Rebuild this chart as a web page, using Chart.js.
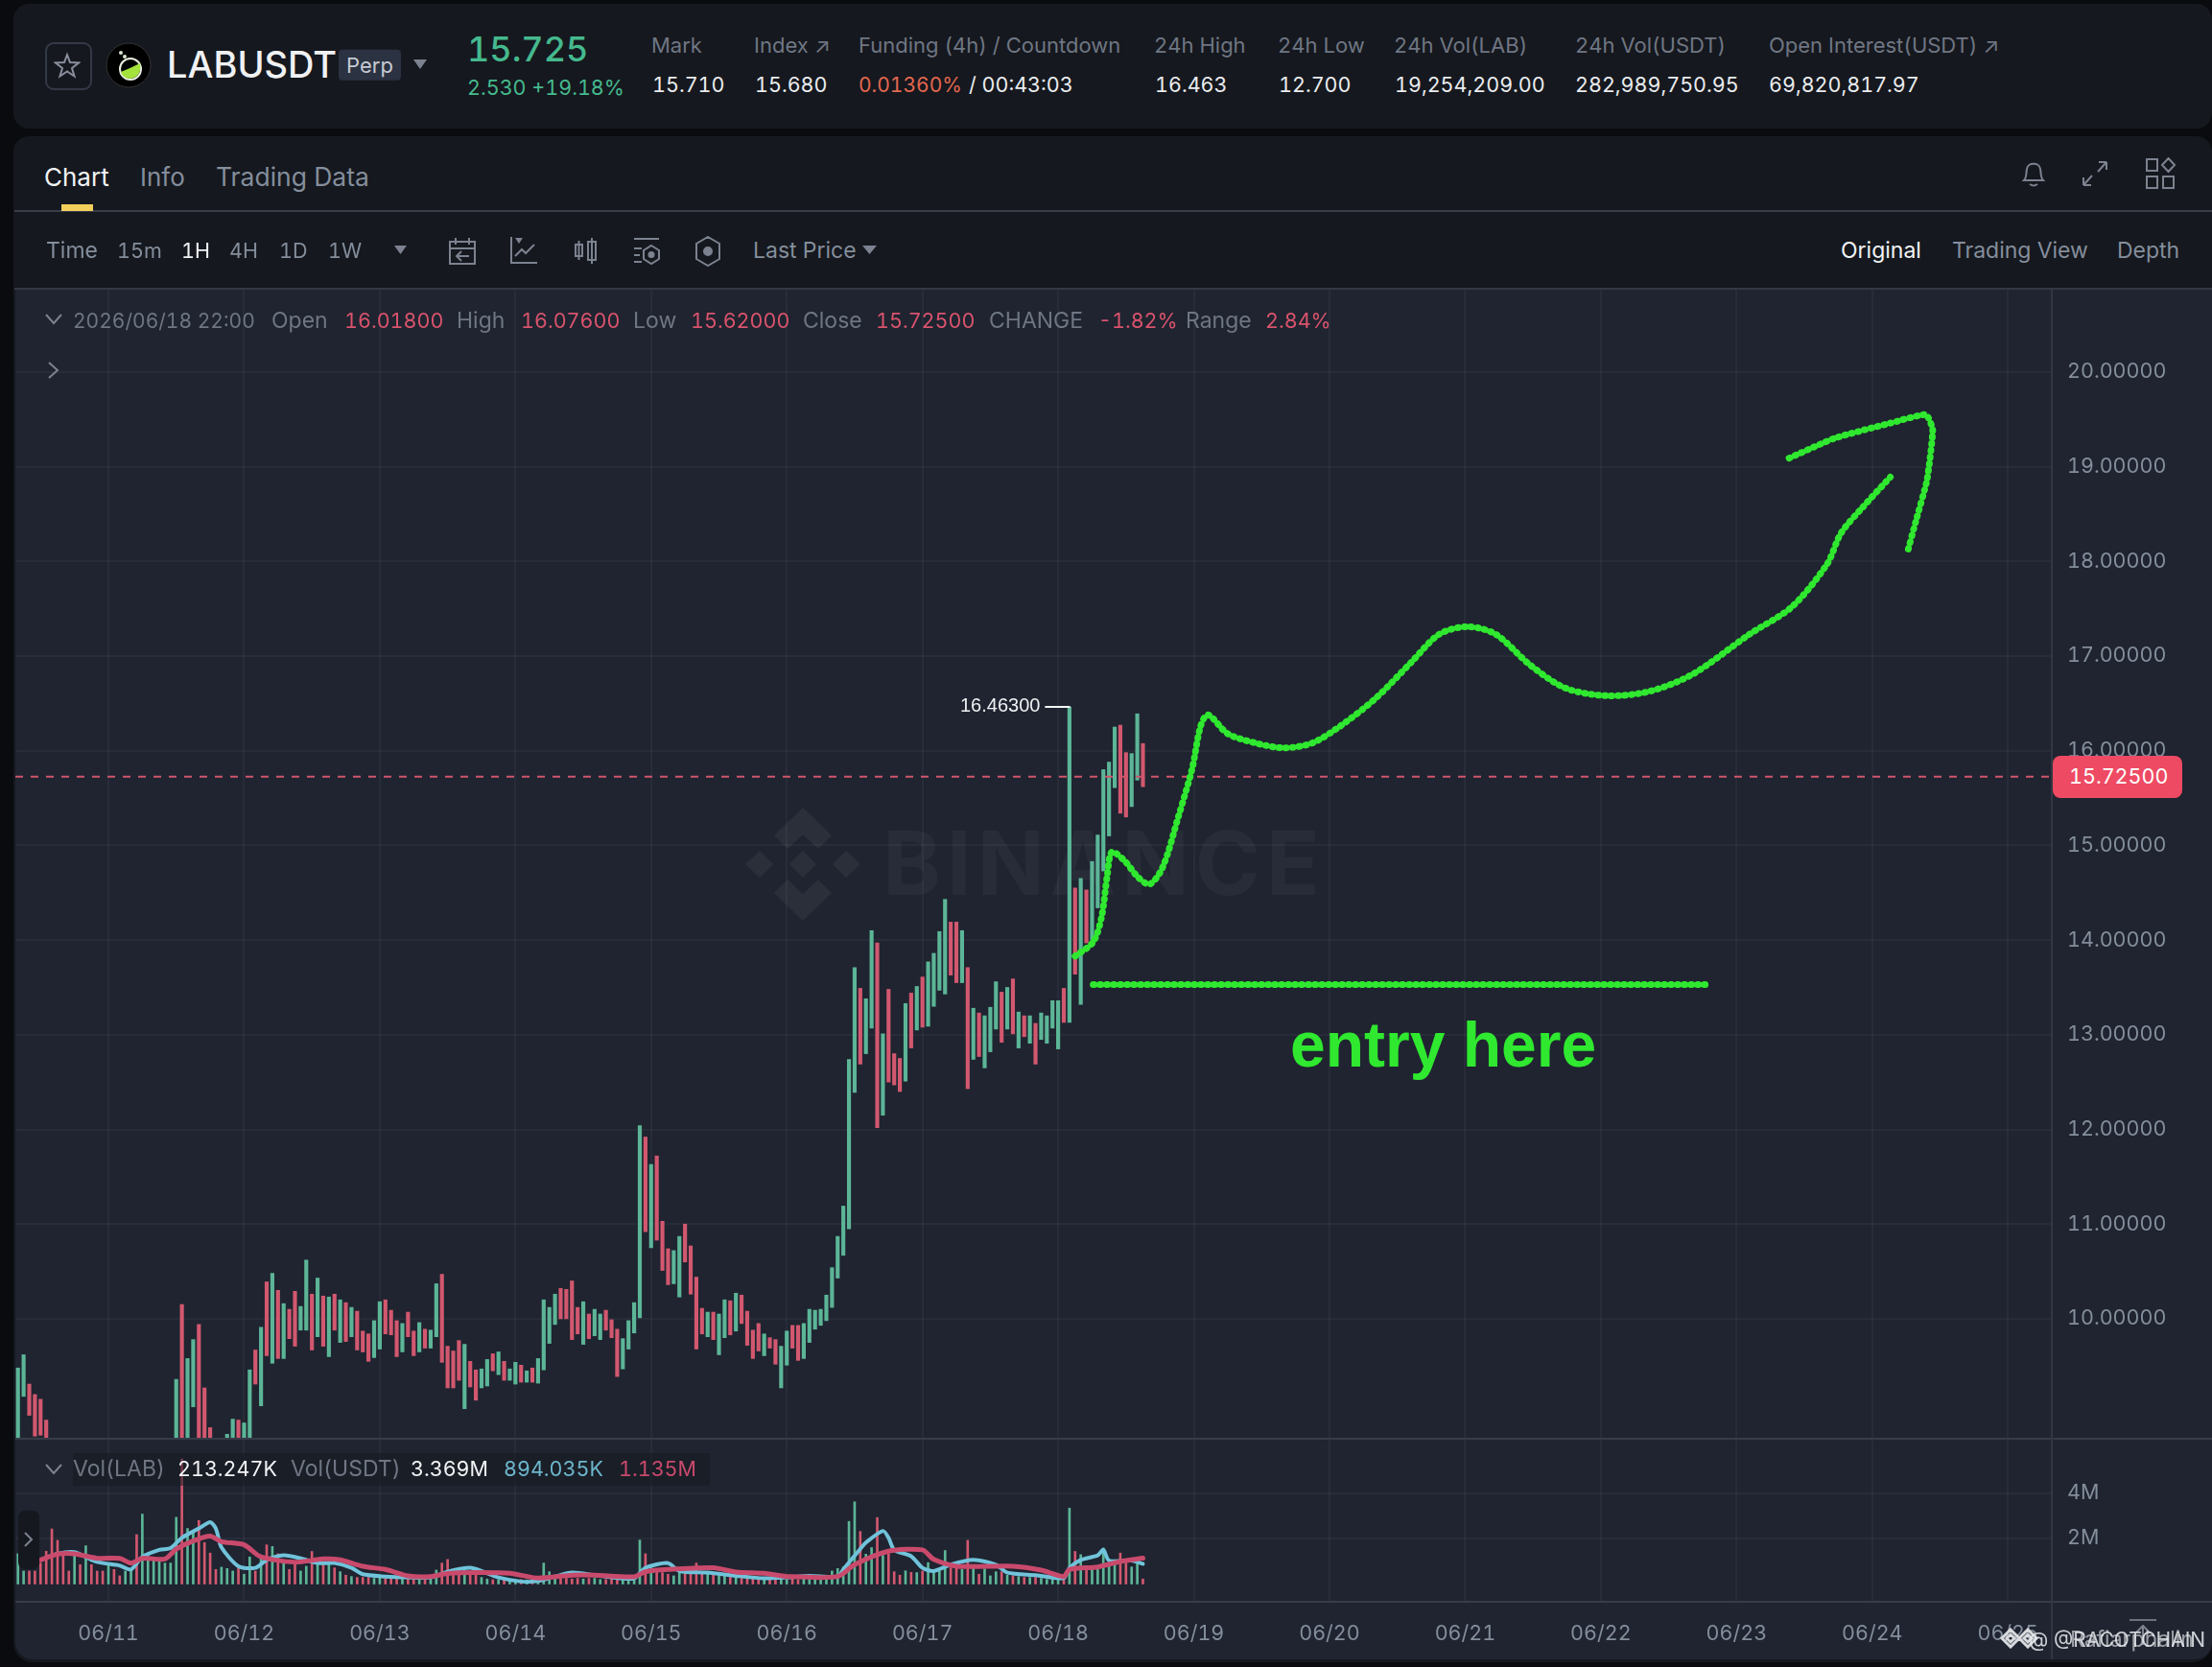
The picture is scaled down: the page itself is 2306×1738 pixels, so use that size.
<!DOCTYPE html>
<html>
<head>
<meta charset="utf-8">
<title>LABUSDT Perp</title>
<script src="https://cdn.jsdelivr.net/npm/chart.js@4"></script>
<style>
html, body { margin: 0; padding: 0; background: #090b0e; }
#stage { position: relative; width: 2306px; height: 1738px; overflow: hidden; background: #090b0e; font-family: Inter, Roboto, sans-serif; font-variant-numeric: tabular-nums; }
#stage div, #stage span, #stage svg, #stage canvas { position: absolute; }
.t { white-space: nowrap; transform: translateY(-50%); line-height: 1.2; }
svg { fill: none; stroke: #7c8290; stroke-width: 2; }
</style>
</head>
<body>
<div id="stage">
  <div style="left:14px;top:4px;width:2292px;height:130px;background:#15181e;border-radius:16px"></div>
  <div style="left:14px;top:142px;width:2292px;height:1591px;background:#15181e;border-radius:16px 16px 20px 20px"></div>
  <div style="left:16px;top:302px;width:2290px;height:1428px;background:#1f2430;border-radius:0 0 18px 18px"></div>
  <div style="left:15px;top:219px;width:2291px;height:2px;background:#373c47"></div>
  <div style="left:15px;top:300px;width:2291px;height:2px;background:#333844"></div>
  <div style="left:64px;top:213px;width:33px;height:7px;background:#f3cf5b"></div>
  <div style="left:47px;top:44px;width:45px;height:46px;border:2px solid #343946;border-radius:9px"></div>

  <!-- big watermark behind the candles -->
  <svg style="left:777px;top:842px;stroke:none;fill:rgba(255,255,255,.05)" width="120" height="118" viewBox="0 0 120 118">
    <path d="M60 0 L90 29 L76 43 L60 28 L44 43 L30 29Z M60 118 L30 89 L44 75 L60 90 L76 75 L90 89Z M15 45 L29 59 L15 73 L0 59Z M105 45 L120 59 L105 73 L91 59Z M60 45 L74 59 L60 73 L46 59Z"/>
  </svg>
  <span class="t" style="left:920px;top:900px;font-size:92px;font-weight:700;letter-spacing:6px;color:rgba(255,255,255,.04)">BINANCE</span>

  <canvas id="priceChart" width="2290" height="1198" style="left:16px;top:302px"></canvas>
  <canvas id="volChart" width="2290" height="233" style="left:16px;top:1500px"></canvas>

  <div style="left:16px;top:1499px;width:2290px;height:2px;background:#373c49"></div>
  <div style="left:16px;top:1669px;width:2290px;height:2px;background:#373c49"></div>
  <div style="left:2138px;top:302px;width:2px;height:1428px;background:#323743"></div>
  <div style="left:76px;top:1515px;width:664px;height:34px;background:rgba(22,25,32,.55)"></div>
  <div style="left:19px;top:1575px;width:22px;height:61px;background:#15181e;border-radius:7px"></div>
  <div style="left:2140px;top:788px;width:135px;height:44px;background:#ee4a63;border-radius:8px"></div>
  <div style="left:2220px;top:1688px;width:28px;height:2px;background:#6b7180"></div>

  <!-- star and logo -->
  <svg style="left:56px;top:54px" width="28" height="28" viewBox="0 0 28 28"><path d="M14 3 L17 11 L26 11.5 L19 17 L21.5 25.5 L14 20.5 L6.5 25.5 L9 17 L2 11.5 L11 11Z" stroke="#8a8f9e"/></svg>
  <svg style="left:110px;top:44px;stroke:none" width="48" height="48" viewBox="0 0 48 48">
    <circle cx="24" cy="24" r="23" fill="#000" stroke="#333" stroke-width="1"/>
    <circle cx="26" cy="28" r="11" fill="#000" stroke="#e8eee0" stroke-width="2"/>
    <path d="M16 31 Q26 27 36 22 Q38 36 26 38 Q18 38 16 31Z" fill="#a4e33c"/>
    <circle cx="16" cy="11" r="2" fill="#d9e6cf"/><circle cx="20" cy="15" r="2" fill="#d9e6cf"/>
  </svg>
  <!-- carets -->
  <svg style="left:431px;top:62px;stroke:none;fill:#7c8290" width="14" height="10"><path d="M0 0H14L7 10Z"/></svg>
  <svg style="left:411px;top:256px;stroke:none;fill:#7c8290" width="13" height="9"><path d="M0 0H13L6.5 9Z"/></svg>
  <svg style="left:899px;top:256px;stroke:none;fill:#7c8290" width="15" height="9"><path d="M0 0H15L7.5 9Z"/></svg>

  <!-- right tab icons -->
  <svg style="left:2106px;top:166px" width="28" height="30" viewBox="0 0 28 30"><path d="M4 22 C7 19 6 15 7 10 C8 3 20 3 21 10 C22 15 21 19 24 22Z M10 26 Q14 29 18 26"/></svg>
  <svg style="left:2170px;top:166px" width="28" height="30" viewBox="0 0 28 30"><path d="M26 3 L18 3 M26 3 L26 11 M26 3 L17 13 M2 27 L10 27 M2 27 L2 19 M2 27 L11 17"/></svg>
  <svg style="left:2236px;top:164px" width="32" height="34" viewBox="0 0 32 34"><path d="M2 2H13V14H2Z M2 20H13V32H2Z M19 20H30V32H19Z M24.5 1 L31 8 L24.5 15 L18 8Z"/></svg>

  <!-- toolbar icons -->
  <svg style="left:467px;top:247px" width="30" height="30" viewBox="0 0 30 30"><path d="M2 5H28V28H2Z M2 12H28 M8 1V8 M22 1V8 M22 20H9 M14 15L9 20L14 25"/></svg>
  <svg style="left:531px;top:246px" width="30" height="30" viewBox="0 0 30 30"><path d="M2 1V28H29 M6 21L13 14L17 18L26 9"/><path d="M6 2H14L10 8Z" stroke="none" fill="#7c8290"/></svg>
  <svg style="left:598px;top:247px" width="26" height="30" viewBox="0 0 26 30"><path d="M2 8H9V20H2Z M5.5 4V24 M15 5H23V24H15Z M19 1V28"/></svg>
  <svg style="left:659px;top:246px" width="30" height="32" viewBox="0 0 30 32"><path d="M2 3H28 M2 13H10 M2 20H8 M2 27H10 M20 10L28 15V24L20 29L12 24V15Z"/><circle cx="20" cy="19.5" r="2.5" fill="#7c8290"/></svg>
  <svg style="left:725px;top:246px" width="26" height="32" viewBox="0 0 26 32"><path d="M13 1L25 8V24L13 31L1 24V8Z"/><circle cx="13" cy="16" r="4" fill="#7c8290"/></svg>

  <!-- chevrons -->
  <svg style="left:47px;top:327px" width="18" height="12"><path d="M1 1L9 10L17 1"/></svg>
  <svg style="left:50px;top:377px" width="12" height="18"><path d="M1 1L10 9L1 17"/></svg>
  <svg style="left:47px;top:1526px" width="18" height="12"><path d="M1 1L9 10L17 1"/></svg>
  <svg style="left:25px;top:1597px" width="10" height="16"><path d="M1 1L8 8L1 15"/></svg>

  <!-- little corner watermark and back-to-latest arrow -->
  <svg style="left:2226px;top:1694px" width="16" height="22"><path d="M8 1V21 M1 8L8 1L15 8"/></svg>
  <svg style="left:2084px;top:1697px;stroke:#d8dade;stroke-width:3" width="48" height="22" viewBox="0 0 48 22"><path d="M12 2L21 11L12 20L3 11Z M8 11L12 7L16 11L12 15Z M30 2L39 11L30 20L21 11Z M26 11L30 7L34 11L30 15Z"/></svg>
</div>

<script>
// hour 0 is 06/11 00:00, one candle per hour from firstHour on
const firstHour = -16;
const dayHours = [0, 24, 48, 72, 96, 120, 144, 168, 192, 216, 240, 264, 288, 312, 336];
const dayLabels = ['06/11', '06/12', '06/13', '06/14', '06/15', '06/16', '06/17', '06/18', '06/19', '06/20', '06/21', '06/22', '06/23', '06/24', '06/25'];
const priceTicks = [10, 11, 12, 13, 14, 15, 16, 17, 18, 19, 20];
const volTicks = [2, 4];
const lastPrice = 15.725;

// G up, R down. nulls are candles that sit below the visible price range
const candleDirs = ('GGRRRRRRRR' + 'GRGRRRGRRG' + 'GRGGGGGGGR' + 'GGRRRRGGGR' + 'GGRGRGRGRR' +
    'GGRGRGRGRG' + 'RRRGGRRRGR' + 'RGRGGRRRRG' + 'RRGGRGRGGR' + 'GRGGGGRRRR' +
    'GRGGRRRGGG' + 'GRGRRRGGRR' + 'RRGRGGRGRR' + 'RRGRRGGRRG' + 'GGGGGGGGGR' +
    'GGRGRRRGRG' + 'RGGGGRRGRG' + 'RGGGRGRGRG' + 'RGGGGRGRGR' + 'GGGGGRRGGR').split('');

const highs = [
    9.48, 9.62, 9.31, 9.20, 9.15, 8.93, null, null, null, null,
    null, null, null, null, null, null, null, null, null, null,
    null, null, null, null, null, null, null, null, 9.36, 10.15,
    9.58, 9.78, 9.94, 9.27, 8.85, null, null, 8.78, 8.94, 8.93,
    8.90, 9.46, 9.67, 9.91, 10.39, 10.48, 10.30, 10.16, 10.10, 10.29,
    10.13, 10.62, 10.26, 10.43, 10.24, 10.23, 10.26, 10.20, 10.17, 10.12,
    10.08, 9.87, 9.84, 9.98, 10.18, 10.20, 10.09, 9.98, 9.95, 10.07,
    9.87, 9.96, 9.89, 9.88, 10.37, 10.47, 9.71, 9.66, 9.77, 9.73,
    9.55, 9.46, 9.47, 9.57, 9.63, 9.65, 9.55, 9.47, 9.54, 9.51,
    9.45, 9.48, 9.58, 10.20, 10.12, 10.26, 10.32, 10.31, 10.40, 10.12,
    10.18, 10.05, 10.10, 10.05, 10.09, 9.99, 9.89, 9.79, 9.98, 10.17,
    12.04, 11.92, 11.63, 11.72, 11.03, 10.74, 10.72, 10.87, 11.00, 10.77,
    10.44, 10.11, 10.07, 10.07, 10.05, 10.20, 10.19, 10.27, 10.25, 10.08,
    9.88, 9.95, 9.84, 9.80, 9.78, 9.71, 9.87, 9.93, 9.93, 9.95,
    10.10, 10.09, 10.10, 10.25, 10.54, 10.87, 11.19, 12.74, 13.71, 13.49,
    13.38, 14.10, 13.97, 13.01, 13.48, 12.80, 12.75, 13.33, 13.44, 13.51,
    13.61, 13.77, 13.86, 14.09, 14.43, 14.19, 14.19, 14.10, 13.71, 13.28,
    13.23, 13.20, 13.29, 13.56, 13.45, 13.50, 13.59, 13.24, 13.20, 13.20,
    13.12, 13.23, 13.20, 13.36, 13.36, 13.49, 16.463, 14.55, 14.65, 14.53,
    14.83, 15.11, 15.80, 15.88, 16.25, 16.27, 15.98, 15.97, 16.39, 16.076
];
const lows = [
    8.70, 9.18, 8.98, 8.76, 8.77, 8.70, null, null, null, null,
    null, null, null, null, null, null, null, null, null, null,
    null, null, null, null, null, null, null, null, 8.70, 8.70,
    8.70, 9.07, 8.70, 8.70, 8.70, null, null, 8.70, 8.70, 8.70,
    8.70, 8.70, 9.31, 9.08, 9.61, 9.53, 9.58, 9.58, 9.79, 9.71,
    9.88, 9.88, 9.67, 9.81, 9.71, 9.60, 9.88, 9.75, 9.76, 9.81,
    9.67, 9.65, 9.55, 9.59, 9.68, 9.84, 9.83, 9.60, 9.65, 9.81,
    9.61, 9.65, 9.69, 9.69, 9.81, 9.54, 9.27, 9.27, 9.35, 9.05,
    9.28, 9.14, 9.27, 9.29, 9.45, 9.41, 9.35, 9.35, 9.31, 9.33,
    9.33, 9.33, 9.32, 9.46, 9.74, 9.94, 10.00, 10.00, 9.78, 9.84,
    9.73, 9.79, 9.82, 9.78, 9.88, 9.80, 9.39, 9.47, 9.68, 9.85,
    10.01, 10.92, 10.75, 10.83, 10.51, 10.36, 10.37, 10.23, 10.60, 10.26,
    9.68, 9.84, 9.81, 9.78, 9.62, 9.80, 9.83, 9.87, 9.95, 9.72,
    9.58, 9.66, 9.61, 9.69, 9.52, 9.27, 9.51, 9.69, 9.56, 9.58,
    9.75, 9.89, 9.93, 9.98, 10.12, 10.43, 10.67, 10.95, 12.39, 12.69,
    12.80, 13.07, 12.02, 12.15, 12.50, 12.47, 12.40, 12.51, 12.86, 13.05,
    13.08, 13.09, 13.30, 13.47, 13.43, 13.63, 13.55, 13.55, 12.43, 12.74,
    12.77, 12.65, 12.82, 13.06, 12.92, 13.06, 13.01, 12.86, 12.98, 12.91,
    12.69, 12.95, 12.91, 13.07, 12.85, 13.13, 13.13, 13.64, 13.32, 13.97,
    14.00, 14.34, 14.73, 15.10, 15.61, 15.34, 15.30, 15.41, 15.69, 15.62
];

// volume in millions USDT
const volumes = [
    1.33, .57, .57, .57, .92, 1.44, 2.42, 1.92, 1.33, .57,
    1.26, .85, 1.68, .85, .57, .57, .92, .64, .36, .57,
    .64, 2.17, 3.07, 1.26, 1.03, .99, .92, .92, 2.93, 5.5,
    2.44, 2.31, 2.79, 1.82, 1.36, .64, .74, .68, .57, .71,
    .43, 1.19, .57, 1.13, 1.72, 1.65, 1.33, .92, .64, .92,
    .57, .78, 1.43, .85, .85, .85, .71, .54, .39, .33,
    .29, .29, .29, .25, .28, .25, .25, .22, .25, .22,
    .25, .22, .22, .25, .61, .92, 1.08, .57, .54, .75,
    .57, .57, .29, .22, .19, .2, .18, .2, .18, .2,
    .18, .2, .18, .92, .54, .29, .25, .25, .22, .25,
    .22, .25, .25, .2, .2, .22, .2, .2, .22, .22,
    1.93, 1.33, .78, .64, .5, .43, .36, .5, .64, .5,
    .92, .5, .43, .43, .5, .43, .36, .36, .29, .27,
    .25, .27, .25, .22, .25, .22, .2, .22, .2, .25,
    .22, .2, .25, .29, .57, .68, .75, 2.75, 3.61, 2.31,
    1.31, 1.6, 2.92, 1.26, 1.33, .54, .39, .58, .51, .5,
    .57, .94, .57, .57, 1.47, .71, .71, .64, 1.92, .71,
    .43, .67, .36, .54, .54, .39, .36, .33, .29, .29,
    .29, .25, .2, .2, .22, .25, 3.33, 1.43, 1.29, .64,
    .64, .64, 1.58, .78, .85, 1.36, .92, .75, .99, .22
];

const fastHours = [-12, -9, -6, -3, -1, 2, 4, 6, 9, 11, 13, 16, 18, 19, 20, 23, 26, 28, 31, 34, 37, 40, 43, 45, 49, 53, 57, 60, 64, 66, 69, 73, 76, 79, 82, 86, 89, 93, 95, 99, 101, 106, 111, 116, 120, 124, 129, 130, 133, 134, 137, 138, 139, 142, 144, 146, 149, 153, 157, 159, 164, 169, 170, 172, 175, 176, 177, 181, 183];
const fastVols = [1.06, 1.33, 1.40, 1.06, .92, .81, .64, 1.19, 1.50, 1.58, 2.03, 2.44, 2.72, 2.44, 1.61, .78, .71, 1.06, 1.26, 1.13, .92, .92, .71, .43, .33, .29, .29, .54, .71, .57, .29, .11, .13, .33, .50, .39, .29, .25, .71, .92, .57, .50, .36, .25, .29, .36, .33, .64, 1.54, 1.82, 2.33, 2.03, 1.50, 1.22, .71, .57, .85, 1.06, .85, .50, .39, .26, .71, 1.06, 1.26, 1.50, 1.03, 1.03, .89];
const slowHours = [-12, -9, -6, -2, 2, 4, 6, 10, 12, 15, 18, 20, 24, 27, 33, 38, 41, 45, 49, 53, 57, 60, 65, 71, 76, 82, 86, 93, 95, 99, 107, 111, 116, 120, 129, 132, 138, 144, 146, 150, 160, 165, 169, 170, 175, 179, 183];
const slowVols = [1.06, 1.31, 1.33, 1.13, 1.13, .92, 1.13, 1.10, 1.53, 1.89, 2.10, 1.86, 1.72, 1.19, .96, 1.10, 1.06, .78, .64, .36, .33, .46, .50, .47, .26, .39, .39, .32, .54, .64, .71, .53, .47, .33, .33, .85, 1.44, 1.50, 1.08, .78, .78, .61, .33, .64, .75, .99, 1.135];

// hand drawn forecast on top of the chart
const sketchHours = [171.0, 174.2, 175.7, 176.7, 177.5, 179.7, 182.2, 184.2, 186.5, 189.2, 191.7, 193.2, 194.5, 198.0, 203.0, 207.9, 212.9, 217.9, 224.1, 230.4, 235.4, 240.4, 245.4, 251.6, 257.8, 265.3, 272.8, 280.3, 290.3, 297.8, 304.0, 306.5, 310.3, 315.2];
const sketchPrices = [13.83, 13.98, 14.25, 14.69, 14.93, 14.84, 14.66, 14.59, 14.77, 15.29, 15.81, 16.26, 16.38, 16.18, 16.08, 16.03, 16.08, 16.26, 16.55, 16.93, 17.23, 17.31, 17.23, 16.90, 16.66, 16.58, 16.63, 16.81, 17.23, 17.52, 17.97, 18.30, 18.57, 18.89];
const arrowHours = [297.3, 305.3, 315.2, 321.5, 322.7, 321.7, 319.7, 318.2];
const arrowPrices = [19.09, 19.30, 19.46, 19.55, 19.39, 18.86, 18.42, 18.09];
const entryHours = [174.2, 282.8];
const entryPrice = 13.53;
const peakHours = [165.8, 170];
const peakPrice = 16.463;

const UP = '#5cb597', DOWN = '#d2586f', SKETCH = '#2fe82f', GREY = '#848e9c', DIM = '#6f7683', WHITE = '#eaecef';
const GRID = 'rgba(255,255,255,0.04)';
const xMin = -16.46, xMax = 343.6;

Chart.defaults.font.family = 'Inter, Roboto, sans-serif';
Chart.defaults.animation = false;

function pairs(xs, ys) {
    return xs.map(function(x, i) { return { x: x, y: ys[i] }; });
}
function dirColors() {
    return candleDirs.map(function(d) { return d === 'G' ? UP : DOWN; });
}
function drawnLine(points, color, width, order, extra) {
    return Object.assign({
        type: 'line', data: points, borderColor: color, borderWidth: width,
        pointRadius: 0, tension: 0, order: order, borderCapStyle: 'round', borderJoinStyle: 'round'
    }, extra || {});
}
function dayAxis(showLabels) {
    return {
        type: 'linear', min: xMin, max: xMax, offset: false,
        afterBuildTicks: function(axis) { axis.ticks = dayHours.map(function(v) { return { value: v }; }); },
        afterFit: function(axis) {
            axis.height = showLabels ? 63 : 0;
            axis.paddingLeft = axis.paddingRight = 0;
        },
        grid: { color: GRID, drawTicks: false, lineWidth: 2, offset: false },
        border: { display: false },
        ticks: {
            display: showLabels, color: GREY, font: { size: 21.5 }, padding: 21,
            maxRotation: 0, autoSkip: false,
            callback: function(v) { return dayLabels[dayHours.indexOf(v)]; }
        }
    };
}
function sideAxis(min, max, tickValues, format) {
    return {
        position: 'right', min: min, max: max,
        afterBuildTicks: function(axis) { axis.ticks = tickValues.map(function(v) { return { value: v }; }); },
        afterFit: function(axis) {
            axis.width = 168;
            axis.paddingTop = axis.paddingBottom = 0;
        },
        grid: { color: GRID, drawTicks: false, lineWidth: 2 },
        border: { display: false },
        ticks: { color: GREY, font: { size: 21.5 }, padding: 17, callback: format }
    };
}

// dotted marker look of the hand drawn strokes
const beads = { borderDash: [1, 6] };

new Chart(document.getElementById('priceChart'), {
    type: 'bar',
    data: {
        datasets: [
            drawnLine(pairs(sketchHours, sketchPrices), SKETCH, 7, 0, Object.assign({ tension: 0.3 }, beads)),
            drawnLine(pairs(arrowHours, arrowPrices), SKETCH, 7, 0, Object.assign({ tension: 0.15 }, beads)),
            drawnLine(pairs(entryHours, [entryPrice, entryPrice]), SKETCH, 7, 0, beads),
            drawnLine(pairs(peakHours, [peakPrice, peakPrice]), '#f4f5f6', 2, 1),
            {
                type: 'bar', order: 3, barThickness: 3.5,
                data: highs.map(function(h, i) {
                    return { x: firstHour + i, y: h === null ? null : [lows[i], h] };
                }),
                backgroundColor: dirColors()
            },
            drawnLine(pairs([xMin, xMax], [lastPrice, lastPrice]), '#d0566c', 2, 2, { borderDash: [8, 8], borderCapStyle: 'butt' })
        ]
    },
    options: {
        responsive: false,
        devicePixelRatio: 1,
        layout: { padding: 0 },
        plugins: { legend: { display: false }, tooltip: { enabled: false } },
        scales: {
            x: dayAxis(false),
            y: sideAxis(8.733, 20.87, priceTicks, function(v) { return v.toFixed(5); })
        }
    }
});

new Chart(document.getElementById('volChart'), {
    type: 'bar',
    data: {
        datasets: [
            drawnLine(pairs(slowHours, slowVols), '#c94a6c', 5, 0, { tension: 0.25 }),
            drawnLine(pairs(fastHours, fastVols), '#70c3da', 4, 1, { tension: 0.25 }),
            {
                type: 'bar', order: 2, barThickness: 2,
                data: volumes.map(function(v, i) { return { x: firstHour + i, y: v }; }),
                backgroundColor: dirColors()
            }
        ]
    },
    options: {
        responsive: false,
        devicePixelRatio: 1,
        layout: { padding: 0 },
        plugins: { legend: { display: false }, tooltip: { enabled: false } },
        scales: {
            x: dayAxis(true),
            y: sideAxis(-0.78, 6.38, volTicks, function(v) { return v + 'M'; })
        }
    }
});

// page text around the chart
const stage = document.getElementById('stage');
function put(text, x, y, color, size, weight) {
    const el = document.createElement('span');
    el.className = 't';
    el.textContent = text;
    el.style.cssText = 'left:' + x + 'px;top:' + y + 'px;color:' + color + ';font-size:' + (size || 23) + 'px;font-weight:' + (weight || 400);
    stage.appendChild(el);
    return el;
}
const RED = '#d9536c', TEAL = '#45b98e', NUM = 21.5;

put('LABUSDT', 174, 68, '#f0f1f3', 38, 500);
const chip = put('Perp', 353, 68, '#c6cad2', 22);
chip.style.background = '#2b3242'; chip.style.padding = '3px 8px'; chip.style.borderRadius = '4px';
put('15.725', 487, 52, TEAL, 36, 500);
put('2.530 +19.18%', 487, 92, TEAL, NUM);

put('Mark', 679, 47, DIM, 22); put('15.710', 680, 89, WHITE, NUM);
put('Index ↗', 786, 47, DIM, 22); put('15.680', 787, 89, WHITE, NUM);
put('Funding (4h) / Countdown', 895, 47, DIM, 22);
put('0.01360%', 895, 89, '#e2674f', 21); put('/ 00:43:03', 1010, 89, WHITE, NUM);
put('24h High', 1203, 47, DIM, 22); put('16.463', 1204, 89, WHITE, NUM);
put('24h Low', 1332, 47, DIM, 22); put('12.700', 1333, 89, WHITE, NUM);
put('24h Vol(LAB)', 1453, 47, DIM, 22); put('19,254,209.00', 1454, 89, WHITE, NUM);
put('24h Vol(USDT)', 1642, 47, DIM, 22); put('282,989,750.95', 1642, 89, WHITE, NUM);
put('Open Interest(USDT) ↗', 1844, 47, DIM, 22); put('69,820,817.97', 1844, 89, WHITE, NUM);

put('Chart', 46, 185, '#f2f3f5', 26); put('Info', 146, 185, GREY, 26); put('Trading Data', 225, 185, GREY, 26.5);

put('Time', 48, 262, GREY, 23); put('15m', 122, 262, GREY, NUM); put('1H', 189, 262, '#f2f3f5', NUM);
put('4H', 239, 262, GREY, NUM); put('1D', 291, 262, GREY, NUM); put('1W', 342, 262, GREY, NUM);
put('Last Price', 785, 262, GREY, 23);
put('Original', 1919, 262, '#f2f3f5', 23); put('Trading View', 2035, 262, GREY, 23); put('Depth', 2207, 262, GREY, 23);

put('2026/06/18 22:00', 76, 335, DIM, 21);
put('Open', 283, 335, DIM, 23); put('16.01800', 359, 335, RED, NUM);
put('High', 476, 335, DIM, 23); put('16.07600', 543, 335, RED, NUM);
put('Low', 660, 335, DIM, 23); put('15.62000', 720, 335, RED, NUM);
put('Close', 837, 335, DIM, 23); put('15.72500', 913, 335, RED, NUM);
put('CHANGE', 1031, 335, DIM, 23); put('-1.82%', 1145, 335, RED, NUM);
put('Range', 1236, 335, DIM, 23); put('2.84%', 1319, 335, RED, NUM);

put('15.72500', 2157, 810, '#ffffff', NUM);
const peak = put('16.46300', 1001, 735, '#eef0f2', 20);
peak.style.fontFamily = '"Liberation Sans", sans-serif';
const entry = put('entry here', 1345, 1090, SKETCH, 66, 700);
entry.style.fontFamily = '"Liberation Sans", sans-serif';

put('Vol(LAB)', 76, 1532, DIM, 23); put('213.247K', 185, 1532, '#f2f3f5', NUM);
put('Vol(USDT)', 303, 1532, DIM, 23); put('3.369M', 428, 1532, '#f2f3f5', NUM);
put('894.035K', 525, 1532, '#6db6cc', NUM); put('1.135M', 645, 1532, '#c94a6c', NUM);

put('@ @RACOTCHAIN', 2115, 1710, 'rgba(235,237,240,.85)', 21);
put('Rafiarphalin', 2158, 1710, 'rgba(235,237,240,.6)', 23);
</script>
</body>
</html>
